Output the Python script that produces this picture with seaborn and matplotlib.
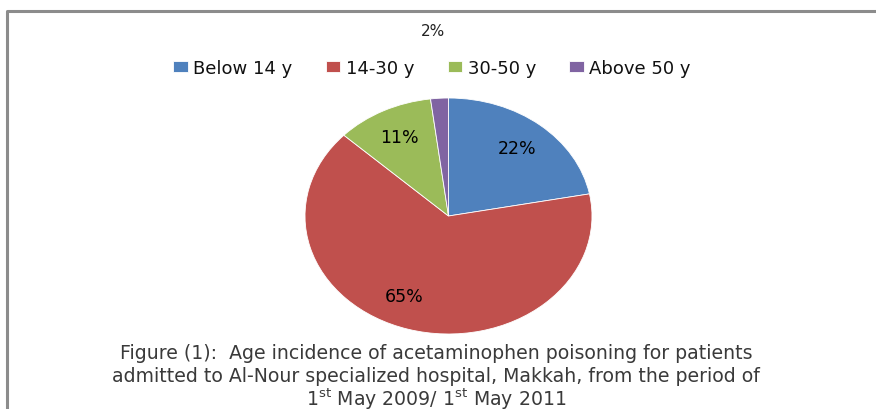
import matplotlib
matplotlib.use("Agg")
import matplotlib.pyplot as plt
import seaborn as sns
import numpy as np

categories = ["Below 14 y", "14-30 y", "30-50 y", "Above 50 y"]
values = [22, 65, 11, 2]
colors = ["#4F81BD", "#C0504D", "#9BBB59", "#8064A2"]
caption_lines = [
    "Figure (1):  Age incidence of acetaminophen poisoning for patients",
    "admitted to Al-Nour specialized hospital, Makkah, from the period of",
    "1$^{\\mathrm{st}}$ May 2009/ 1$^{\\mathrm{st}}$ May 2011",
]

sns.set_theme(style="white")
plt.rcParams["font.family"] = ["DejaVu Sans"]
plt.rcParams["mathtext.fontset"] = "custom"
plt.rcParams["mathtext.rm"] = "DejaVu Sans"

W, H = 876, 410
fig = plt.figure(figsize=(W / 100, H / 100), dpi=100)
fig.patch.set_facecolor("white")

# frame
frame = fig.add_axes([0, 0, 1, 1], zorder=-1)
frame.set_xlim(0, W)
frame.set_ylim(H, 0)
frame.axis("off")
frame.plot([7, 7, W + 5], [H + 5, 12, 12], color="#8c8c8c", lw=2.2, solid_capstyle="butt")

# pie axes (elliptical)
px0, px1, py0, py1 = 305, 592, 99, 335
ax = fig.add_axes([px0 / W, 1 - py1 / H, (px1 - px0) / W, (py1 - py0) / H])
wedges, texts, autotexts = ax.pie(
    values, colors=colors, startangle=90, counterclock=False,
    autopct="%1.0f%%", pctdistance=0.75,
    wedgeprops=dict(linewidth=0.6, edgecolor="white"),
    textprops=dict(fontsize=12.5, color="black"),
)
ax.set_aspect("auto")
ax.set_xlim(-1, 1)
ax.set_ylim(-1, 1)
ax.axis("off")

# 65% label sits a bit more to the left in the reference
autotexts[1].set_position((-0.31, -0.68))
# the 2% label is placed above the legend
autotexts[3].set_transform(fig.transFigure)
autotexts[3].set_position((433 / W, 1 - 32 / H))
autotexts[3].set_fontsize(11)
autotexts[3].set_color("#222222")

# legend
leg = fig.legend(
    wedges, categories, loc="center", bbox_to_anchor=(432 / W, 1 - 69 / H),
    ncol=4, frameon=False, fontsize=13, handlelength=0.8, handleheight=0.55,
    handletextpad=0.3, columnspacing=1.85,
)
for t in leg.get_texts():
    t.set_color("#111111")

# caption
ys = [354, 377, 399]
for line, y in zip(caption_lines, ys):
    fig.text(436 / W, 1 - y / H, line, ha="center", va="center",
             fontsize=13.6, color="#3a3a3a")

fig.savefig("out.png", dpi=100, facecolor="white")
